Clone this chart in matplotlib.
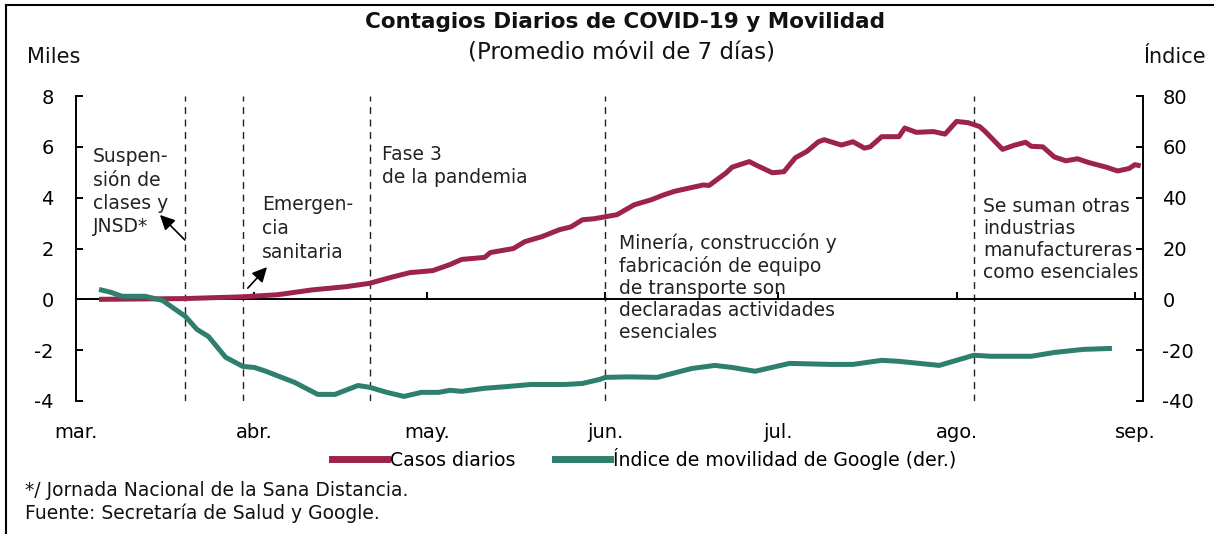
import matplotlib
matplotlib.use("Agg")
import matplotlib.pyplot as plt
import pandas as pd
from matplotlib.lines import Line2D

plt.rcParams['font.family'] = ['DejaVu Sans']

# ---------------- data ----------------
casos_fechas = ["2020-03-05", "2020-03-20", "2020-03-30", "2020-04-05", "2020-04-11", "2020-04-17",
                "2020-04-21", "2020-04-25", "2020-04-28", "2020-05-02", "2020-05-05", "2020-05-07",
                "2020-05-11", "2020-05-12", "2020-05-16", "2020-05-18", "2020-05-21", "2020-05-24",
                "2020-05-26", "2020-05-28", "2020-05-30", "2020-06-01", "2020-06-03", "2020-06-06",
                "2020-06-09", "2020-06-11", "2020-06-13", "2020-06-16", "2020-06-18", "2020-06-19",
                "2020-06-22", "2020-06-23", "2020-06-26", "2020-06-27", "2020-06-30", "2020-07-02",
                "2020-07-04", "2020-07-06", "2020-07-08", "2020-07-09", "2020-07-12", "2020-07-14",
                "2020-07-16", "2020-07-17", "2020-07-19", "2020-07-22", "2020-07-23", "2020-07-25",
                "2020-07-28", "2020-07-30", "2020-08-01", "2020-08-03", "2020-08-05", "2020-08-06",
                "2020-08-09", "2020-08-11", "2020-08-13", "2020-08-14", "2020-08-16", "2020-08-18",
                "2020-08-20", "2020-08-22", "2020-08-24", "2020-08-27", "2020-08-29", "2020-08-31",
                "2020-09-01", "2020-09-02"]
casos_miles = [0.0, 0.03, 0.10, 0.18, 0.37, 0.50,
               0.63, 0.88, 1.05, 1.13, 1.37, 1.57,
               1.65, 1.84, 2.00, 2.27, 2.47, 2.74,
               2.85, 3.13, 3.17, 3.25, 3.33, 3.72,
               3.92, 4.10, 4.25, 4.40, 4.50, 4.48,
               4.98, 5.20, 5.42, 5.30, 4.98, 5.02,
               5.57, 5.82, 6.20, 6.28, 6.07, 6.20,
               5.95, 6.00, 6.40, 6.40, 6.74, 6.57,
               6.60, 6.50, 7.00, 6.95, 6.80, 6.60,
               5.90, 6.06, 6.18, 6.02, 6.00, 5.60,
               5.45, 5.53, 5.38, 5.20, 5.05, 5.15,
               5.30, 5.25]

movilidad_fechas = ["2020-03-05", "2020-03-07", "2020-03-09", "2020-03-13", "2020-03-16", "2020-03-20",
                    "2020-03-22", "2020-03-24", "2020-03-27", "2020-03-30", "2020-04-01", "2020-04-03",
                    "2020-04-08", "2020-04-12", "2020-04-15", "2020-04-19", "2020-04-21", "2020-04-24",
                    "2020-04-27", "2020-04-30", "2020-05-03", "2020-05-05", "2020-05-07", "2020-05-11",
                    "2020-05-15", "2020-05-19", "2020-05-25", "2020-05-28", "2020-05-31", "2020-06-01",
                    "2020-06-05", "2020-06-10", "2020-06-16", "2020-06-20", "2020-06-23", "2020-06-27",
                    "2020-07-03", "2020-07-10", "2020-07-14", "2020-07-19", "2020-07-22", "2020-07-29",
                    "2020-08-04", "2020-08-07", "2020-08-14", "2020-08-18", "2020-08-23", "2020-08-28"]
movilidad_indice = [3.9, 2.8, 1.2, 1.2, -0.4, -6.7,
                    -11.8, -14.6, -22.8, -26.4, -26.8, -28.3,
                    -32.7, -37.4, -37.4, -33.9, -34.6, -36.6,
                    -38.2, -36.6, -36.6, -35.8, -36.2, -35.0,
                    -34.3, -33.5, -33.5, -33.1, -31.5, -30.7,
                    -30.5, -30.7, -27.2, -26.0, -26.8, -28.3,
                    -25.2, -25.6, -25.6, -24.0, -24.4, -26.0,
                    -22.0, -22.4, -22.4, -20.9, -19.7, -19.3]

eventos_fechas = ["2020-03-20", "2020-03-30", "2020-04-21", "2020-06-01", "2020-08-04"]
meses_ticks = ["2020-03-01", "2020-04-01", "2020-05-01", "2020-06-01", "2020-07-01", "2020-08-01", "2020-09-01"]
meses_labels = ["mar.", "abr.", "may.", "jun.", "jul.", "ago.", "sep."]
yticks_izq = [-4, -2, 0, 2, 4, 6, 8]
yticks_der = [-40, -20, 0, 20, 40, 60, 80]

ROJO = "#9D2449"
VERDE = "#2E7F6D"

# ---------------- figure ----------------
W, H = 1214, 534
fig = plt.figure(figsize=(W / 100, H / 100), dpi=100)
ax = fig.add_axes([76 / W, 1 - 401 / H, (1143 - 76) / W, (401 - 96) / H])
ax2 = ax.twinx()

xc = pd.to_datetime(casos_fechas)
xm = pd.to_datetime(movilidad_fechas)

ax.plot(xc, casos_miles, color=ROJO, lw=3.6, solid_capstyle='butt', zorder=4)
ax2.plot(xm, movilidad_indice, color=VERDE, lw=3.6, solid_capstyle='butt', zorder=4)

x0 = pd.Timestamp("2020-03-01")
x1 = x0 + pd.Timedelta(days=185.4)
ax.set_xlim(x0, x1)
ax.set_ylim(-4, 8)
ax2.set_ylim(-40, 80)

for f in eventos_fechas:
    ax.axvline(pd.Timestamp(f), color='#222222', lw=1.0, ls=(0, (5, 4)), zorder=2)

ax.axhline(0, color='black', lw=1.4, zorder=3)

# y axes
ax.set_yticks(yticks_izq)
ax.set_yticklabels([str(v) for v in yticks_izq])
ax.tick_params(axis='y', direction='in', length=5, width=1.4, labelsize=14, pad=16)
ax2.set_yticks(yticks_der)
ax2.set_yticklabels([str(v) for v in yticks_der])
ax2.tick_params(axis='y', direction='in', length=5, width=1.4, labelsize=14, pad=14)

for a in (ax, ax2):
    a.spines['top'].set_visible(False)
    a.spines['bottom'].set_visible(False)
ax.spines['left'].set_linewidth(1.4)
ax2.spines['right'].set_linewidth(1.4)
ax2.spines['left'].set_visible(False)
ax.spines['right'].set_visible(False)

# x labels at bottom, tick marks on zero line
ax.set_xticks(pd.to_datetime(meses_ticks))
ax.set_xticklabels(meses_labels)
ax.tick_params(axis='x', length=0, labelsize=14, pad=16)
sec = ax.secondary_xaxis(1 / 3)
sec.set_xticks(pd.to_datetime(meses_ticks))
sec.tick_params(axis='x', direction='in', length=5, width=1.4, labelbottom=False, labeltop=False)
sec.spines['bottom'].set_visible(False)
sec.spines['top'].set_visible(False)

# annotations
fs = 13.5
ax.text(0.016, 0.832, "Suspen-\nsión de\nclases y\nJNSD*", transform=ax.transAxes, fontsize=fs,
        va='top', ha='left', linespacing=1.29, color='#222222')
ax.text(0.174, 0.675, "Emergen-\ncia\nsanitaria", transform=ax.transAxes, fontsize=fs,
        va='top', ha='left', linespacing=1.33, color='#222222')
ax.text(0.287, 0.838, "Fase 3\nde la pandemia", transform=ax.transAxes, fontsize=fs,
        va='top', ha='left', linespacing=1.25, color='#222222')
ax.text(0.509, 0.552, "Minería, construcción y\nfabricación de equipo\nde transporte son\ndeclaradas actividades\nesenciales",
        transform=ax.transAxes, fontsize=fs, va='top', ha='left', linespacing=1.2, color='#222222', zorder=5)
ax.text(0.850, 0.668, "Se suman otras\nindustrias\nmanufactureras\ncomo esenciales", transform=ax.transAxes,
        fontsize=fs, va='top', ha='left', linespacing=1.19, color='#222222')

arrow = dict(arrowstyle='-|>', color='black', lw=1.2, mutation_scale=22, shrinkA=0, shrinkB=0)
ax.annotate("", xy=(0.0787, 0.610), xytext=(0.102, 0.528), xycoords='axes fraction',
            textcoords='axes fraction', arrowprops=arrow)
ax.annotate("", xy=(0.179, 0.439), xytext=(0.161, 0.370), xycoords='axes fraction',
            textcoords='axes fraction', arrowprops=arrow)

# titles and axis units
fig.text(625 / W, 1 - 22 / H, "Contagios Diarios de COVID-19 y Movilidad", ha='center', va='center',
         fontsize=15.5, fontweight='bold', color='#111111')
fig.text(622 / W, 1 - 52 / H, "(Promedio móvil de 7 días)", ha='center', va='center',
         fontsize=16.5, color='#111111')
fig.text(27 / W, 1 - 57 / H, "Miles", ha='left', va='center', fontsize=15, color='#111111')
fig.text(1206 / W, 1 - 57 / H, "Índice", ha='right', va='center', fontsize=15, color='#111111')

# legend
handles = [Line2D([], [], color=ROJO, lw=5), Line2D([], [], color=VERDE, lw=5)]
fig.legend(handles, ["Casos diarios", "Índice de movilidad de Google (der.)"], loc='center',
           bbox_to_anchor=(644 / W, 1 - 459 / H), ncol=2, frameon=False, fontsize=13.6,
           handlelength=2.9, handletextpad=0.15, columnspacing=2.1)

# footnotes
fig.text(25 / W, 1 - 490 / H, "*/ Jornada Nacional de la Sana Distancia.", ha='left', va='center',
         fontsize=13.5, color='#111111')
fig.text(25 / W, 1 - 513 / H, "Fuente: Secretaría de Salud y Google.", ha='left', va='center',
         fontsize=13.5, color='#111111')

# frame (left and top edges)
fig.add_artist(Line2D([6 / W, 6 / W], [0, 1 - 5 / H], transform=fig.transFigure, color='black', lw=1.5))
fig.add_artist(Line2D([6 / W, 1], [1 - 5 / H, 1 - 5 / H], transform=fig.transFigure, color='black', lw=1.5))

fig.savefig("out.png", dpi=100)
